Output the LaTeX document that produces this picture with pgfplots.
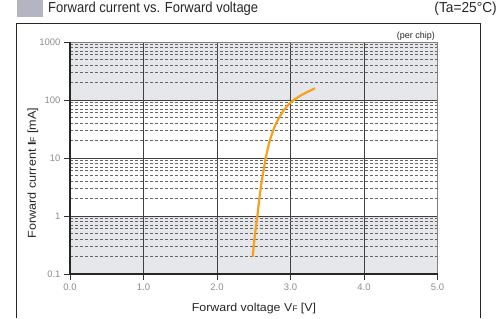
\documentclass[border=0pt]{standalone}
\usepackage{pgfplots}
\pgfplotsset{compat=1.18}
\usepackage{fontspec}
\setmainfont{Liberation Sans}
\definecolor{band}{RGB}{230,231,234}
\definecolor{curve}{RGB}{247,160,28}
\definecolor{sq}{RGB}{180,181,194}
\definecolor{ticklab}{RGB}{140,140,140}
\begin{document}
\begin{tikzpicture}[x=1bp,y=1bp]
\path (0,0) rectangle (501,318);
\fill[sq] (16.5,300.7) rectangle (42.7,318);
\draw[black!85, line width=0.9] (16,0) -- (16,294.7) -- (480.3,294.7) -- (480.3,0);
\node[anchor=base west, inner sep=0, text=black!85, font=\fontsize{14.5}{15}\selectfont] at (48,305) {\scalebox{0.9}[1]{Forward current vs. Forward voltage}};
\node[anchor=base east, inner sep=0, text=black!85, font=\fontsize{14.5}{15}\selectfont] at (497,305) {\scalebox{0.95}[1]{(Ta=25°C)}};
\begin{axis}[
  set layers,
  at={(70bp,44bp)}, anchor=south west,
  scale only axis, width=367.5bp, height=232bp,
  xmin=0, xmax=5, ymode=log, ymin=0.1, ymax=1000,
  xtick={0,1,2,3,4,5}, xticklabels={0.0,1.0,2.0,3.0,4.0,5.0},
  ytick={0.1,1,10,100,1000}, yticklabels={0.1,1,10,100,1000},
  minor x tick num=0,
  tick label style={font=\fontsize{9.5}{10}\selectfont, text=ticklab},
  tick align=outside, xtick pos=bottom, ytick pos=left,
  major tick length=6bp, minor tick length=0pt,
  tick style={black!80, line width=0.8},
  axis line style={black!50, line width=0.8},
  xmajorgrids, ymajorgrids, yminorgrids,
  major grid style={black!75, line width=0.9},
  minor grid style={black!60, line width=0.8, dash pattern=on 3bp off 2bp},
  clip=false,
]
\addplot[fill=band, draw=none, forget plot, on layer=axis background] coordinates {(0,100) (5,100) (5,1000) (0,1000)} -- cycle;
\addplot[fill=band, draw=none, forget plot, on layer=axis background] coordinates {(0,0.1) (5,0.1) (5,1) (0,1)} -- cycle;
\addplot[curve, line width=2.2, smooth, tension=0.5] coordinates {
(2.486,0.199) (2.513,0.44) (2.548,0.97) (2.594,3.0) (2.663,9.9) (2.721,20.4) (2.803,39.6) (2.912,67.3) (3.016,93.6) (3.152,122) (3.333,159)
};
\draw[black!85, line width=2] (rel axis cs:0,1) -- (rel axis cs:0,0) -- (rel axis cs:1,0);
\end{axis}
\node[anchor=base east, inner sep=0, text=black!85, font=\fontsize{9}{10}\selectfont] at (435,279) {(per chip)};
\node[text=black!85, font=\fontsize{11.5}{12}\selectfont] at (254,9) {\scalebox{1.08}[1]{Forward voltage V{\fontsize{8}{9}\selectfont F} [V]}};
\node[rotate=90, text=black!85, font=\fontsize{11.5}{12}\selectfont] at (33,145) {\scalebox{1.1}[1]{Forward current {\bfseries I}{\fontsize{8}{9}\selectfont F} [mA]}};
\end{tikzpicture}
\end{document}
